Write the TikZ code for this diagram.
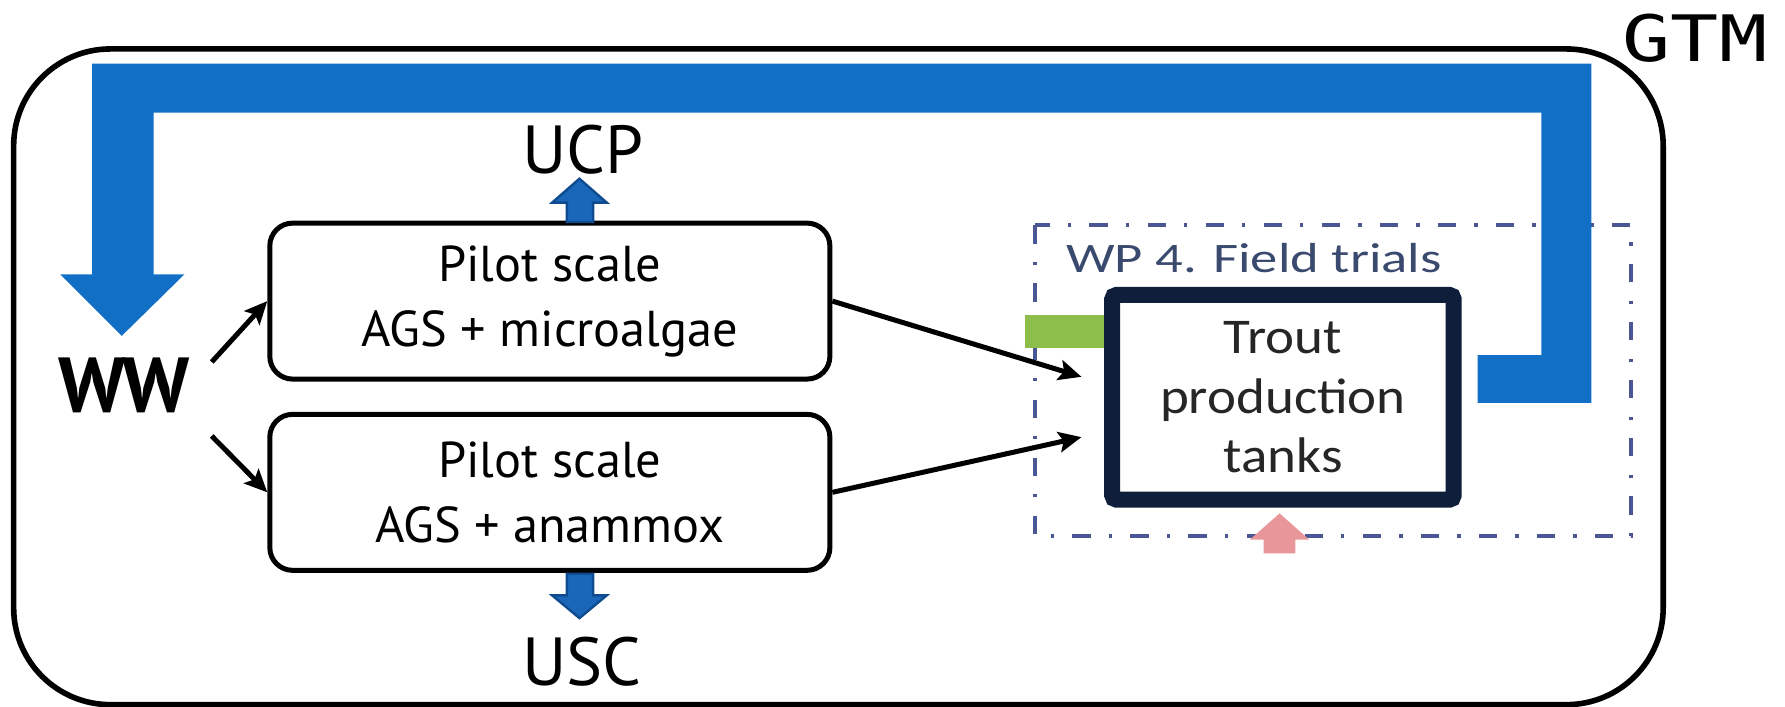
\documentclass[tikz,border=0pt]{standalone}
\usepackage{fontspec}
\setmainfont{PT Sans}
\newfontfamily\gtmfont[FakeStretch=1.25]{DejaVu Sans Mono}
\newfontfamily\wpfont[FakeStretch=1.3]{Carlito}
\newfontfamily\troutfont[FakeStretch=1.1]{Carlito}
\usepackage{tikz}
\usetikzlibrary{arrows.meta, positioning, calc}
\usepackage{xcolor}
\definecolor{gtmBlue}{HTML}{1170C5}
\definecolor{smBlue}{HTML}{1A66B8}
\definecolor{smEdge}{HTML}{0F4C8F}
\definecolor{troutNavy}{HTML}{0E1E3B}
\definecolor{wpSlate}{HTML}{4B5694}
\definecolor{wpText}{HTML}{3A4A6E}
\definecolor{feedGreen}{HTML}{8DBE4B}
\definecolor{heatPink}{HTML}{E9969B}

\begin{document}
\begin{tikzpicture}[x=0.1mm, y=-0.1mm,
    pilot/.style={draw, line width=1.25pt, rounded corners=2mm, minimum width=49.2mm,
        minimum height=13.7mm, align=center, font=\fontsize{12.6}{16.2}\selectfont},
    trout/.style={draw=troutNavy, fill=white, line width=4pt, rounded corners=0.4mm,
        minimum width=30mm, minimum height=18mm, align=center, text=black!85,
        font=\troutfont\fontsize{12.5}{14.8}\selectfont},
    flow/.style={-{Stealth[length=2mm, width=1.8mm, inset=0.4mm]}, line width=1.25pt},
    site/.style={anchor=base, inner sep=0pt, font=\fontsize{17}{20}\selectfont},
    blockarrow/.style={fill=smBlue, draw=smEdge, line width=0.6pt}]
    \useasboundingbox (0,0) rectangle (1568,621);

    % Frame
    \draw[line width=1.4pt, rounded corners=8.5mm] (12,43) rectangle (1461,619);

    % WP 4 field trials
    \draw[wpSlate, line width=1pt, dash pattern=on 1.6mm off 1.6mm on 0.3mm off 1.6mm]
        (909,198) rectangle (1433,471);
    \node[anchor=base west, inner sep=0pt, text=wpText, font=\wpfont\fontsize{10.5}{13}\selectfont]
        (wp) at (936,239) {WP 4. Field trials};
    \fill[feedGreen] (900,277) rectangle (990,306);
    \node[trout] (tanks) at (1127,349) {Trout\\production\\tanks};
    \fill[heatPink] (1110,486) -- (1110,474) -- (1098,474) -- (1124,451)
        -- (1150,474) -- (1138,474) -- (1138,486) -- cycle;

    % GTM return
    \fill[gtmBlue] (81,56) -- (1398,56) -- (1398,354) -- (1298,354) -- (1298,312)
        -- (1354,312) -- (1354,99) -- (135,99) -- (135,241) -- (162,241)
        -- (107,295) -- (53,241) -- (81,241) -- cycle;
    \node[anchor=base, inner sep=0pt, font=\gtmfont\fontsize{16}{19}\selectfont]
        (gtm) at (1489,54) {GTM};

    % Pilot plants
    \node[pilot] (algae) at (483,264.5) {Pilot scale\\AGS + microalgae};
    \node[pilot] (anammox) at (483,432.5) {Pilot scale\\AGS + anammox};
    \node[site, font=\bfseries\fontsize{19.5}{22}\selectfont] (ww) at (109,362) {WW};
    \node[site] (ucp) at (512,152) {UCP};
    \node[site] (usc) at (511,602) {USC};

    % Outputs
    \draw[blockarrow] (498,195) -- (498,178) -- (485,178) -- (509,157)
        -- (533,178) -- (521,178) -- (521,195) -- cycle;
    \draw[blockarrow] (498,504) -- (521,504) -- (521,523) -- (533,523)
        -- (509,543) -- (485,523) -- (498,523) -- cycle;

    % Flows
    \coordinate (wwup) at (186,318);
    \coordinate (wwdn) at (186,383);
    \coordinate (in1) at (950,331);
    \coordinate (in2) at (950,384);
    \draw[flow] (wwup) -- (algae.west);
    \draw[flow] (wwdn) -- (anammox.west);
    \draw[flow] (algae.east) -- (in1);
    \draw[flow] (anammox.east) -- (in2);
\end{tikzpicture}
\end{document}
